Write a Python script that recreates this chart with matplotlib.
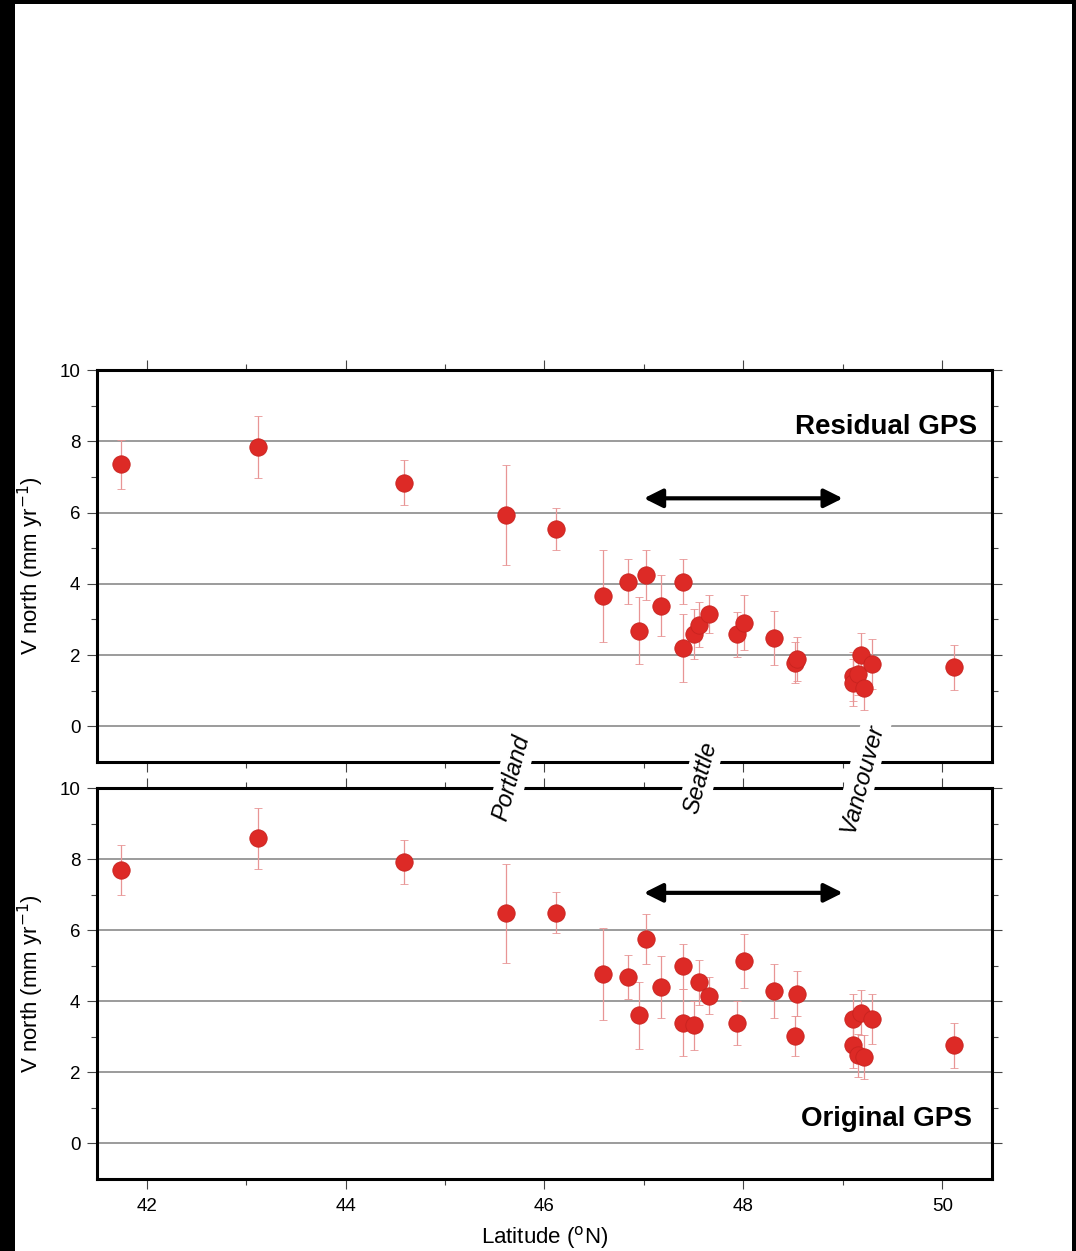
import numpy as np
import matplotlib.pyplot as plt
from matplotlib.patches import Rectangle

plt.rcParams['font.family'] = ['Liberation Sans', 'DejaVu Sans']

# GPS stations: latitude, northward velocity (mm/yr) and 1-sigma uncertainty
lat = [41.74, 43.12, 44.59, 45.61, 46.12, 46.59, 46.84, 46.95, 47.02, 47.17,
       47.39, 47.39, 47.50, 47.55, 47.65, 47.94, 48.01, 48.31, 48.52, 48.54,
       49.10, 49.10, 49.15, 49.18, 49.21, 49.29, 50.12]
v_residual = [7.35, 7.84, 6.84, 5.94, 5.54, 3.66, 4.06, 2.69, 4.24, 3.39,
              4.06, 2.20, 2.58, 2.85, 3.15, 2.59, 2.91, 2.48, 1.79, 1.89,
              1.40, 1.23, 1.47, 2.00, 1.08, 1.74, 1.66]
v_original = [7.69, 8.58, 7.92, 6.47, 6.49, 4.76, 4.68, 3.61, 5.76, 4.40,
              4.98, 3.40, 3.32, 4.53, 4.16, 3.39, 5.13, 4.29, 3.02, 4.21,
              3.51, 2.76, 2.48, 3.68, 2.43, 3.49, 2.76]
sigma = [0.70, 0.86, 0.63, 1.40, 0.58, 1.30, 0.63, 0.94, 0.70, 0.86,
         0.64, 0.95, 0.70, 0.63, 0.53, 0.63, 0.77, 0.77, 0.57, 0.63,
         0.70, 0.65, 0.60, 0.63, 0.62, 0.70, 0.63]

cities = ['Portland', 'Seattle', 'Vancouver']
city_lat = [45.67, 47.57, 49.19]

# latitude band marked by the arrows, and arrow height per panel
band = (47.0, 49.0)
arrow_y = [6.4, 7.05]

fig = plt.figure(figsize=(10.76, 12.51), dpi=100)
# black frame along the left / top / right edges
fig.patches.append(Rectangle((0, 0), 15 / 1076, 1, transform=fig.transFigure,
                             facecolor='black', edgecolor='none'))
fig.patches.append(Rectangle((0, 1 - 4 / 1251), 1, 4 / 1251, transform=fig.transFigure,
                             facecolor='black', edgecolor='none'))
fig.patches.append(Rectangle((1 - 4 / 1076, 0), 4 / 1076, 1, transform=fig.transFigure,
                             facecolor='black', edgecolor='none'))

ax1 = fig.add_axes([0.0901, 0.3909, 0.8318, 0.3133])
ax2 = fig.add_axes([0.0901, 0.0576, 0.8318, 0.3125])

red = '#dd2a26'
for ax, v, ay in [(ax1, v_residual, arrow_y[0]), (ax2, v_original, arrow_y[1])]:
    ax.errorbar(lat, v, yerr=sigma, fmt='o', color=red, markersize=12.5,
                markeredgecolor='#c8231f', markeredgewidth=0.6,
                ecolor='#e89595', elinewidth=0.9, capsize=3, capthick=0.9, zorder=3)
    ax.set_xlim(41.5, 50.5)
    ax.set_ylim(-1, 10)
    ax.set_xticks(np.arange(42, 51, 2))
    ax.set_xticks(np.arange(43, 51, 2), minor=True)
    ax.set_yticks(np.arange(0, 11, 2))
    ax.set_yticks(np.arange(1, 10, 2), minor=True)
    ax.grid(axis='y', which='major', color='#8a8a8a', linewidth=1.2, zorder=0)
    ax.set_axisbelow(True)
    ax.tick_params(which='both', direction='out', top=True, right=True,
                   width=0.8, color='#444444', labelsize=13.5)
    ax.tick_params(which='major', length=7, pad=5)
    ax.tick_params(which='minor', length=4)
    ax.tick_params(axis='x', which='major', pad=7)
    for s in ax.spines.values():
        s.set_linewidth(2.2)
    ax.set_ylabel('V north (mm yr$^{-1}$)', fontsize=16, labelpad=10)
    ax.annotate('', xy=(band[1], ay), xytext=(band[0], ay),
                arrowprops=dict(arrowstyle='<|-|>', color='black', lw=3,
                                mutation_scale=28, shrinkA=0, shrinkB=0))

ax1.tick_params(labelbottom=False)
ax1.text(0.983, 0.855, 'Residual GPS', transform=ax1.transAxes, ha='right',
         va='center', fontsize=20, fontweight='bold')
ax2.text(0.978, 0.153, 'Original GPS', transform=ax2.transAxes, ha='right',
         va='center', fontsize=20, fontweight='bold')
ax2.set_xlabel('Latitude ($^{\\rm o}$N)', fontsize=16, labelpad=6)

# city names sit in the gap between the panels, masking the frames
for name, x in zip(cities, city_lat):
    ax2.annotate(name, xy=(x, 10.28), xycoords='data', ha='center', va='center',
                 rotation=75, rotation_mode='anchor', fontsize=17, style='italic',
                 annotation_clip=False, zorder=10,
                 bbox=dict(boxstyle='square,pad=0.15', facecolor='white',
                           edgecolor='none'))

fig.savefig('out.png', dpi=100)
